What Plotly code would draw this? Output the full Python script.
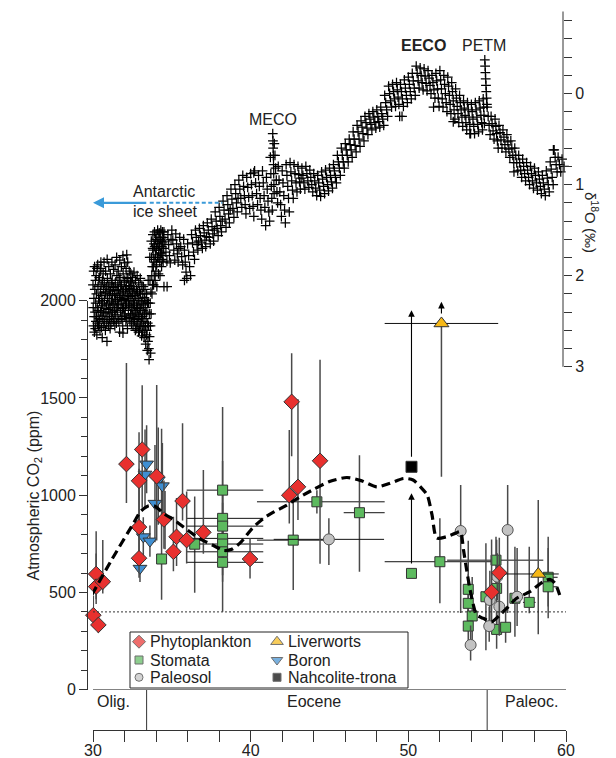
import plotly.graph_objects as go

W, H = 616, 758
FONT = "Liberation Sans, Arial, sans-serif"
TXT = "#222222"

# ---------------- delta 18O (benthic) record ----------------
# each age bin holds the values read off the cloud within that bin
d18o_age = [30.0, 30.1, 30.2, 30.3, 30.4, 30.5, 30.6, 30.7, 30.8, 30.9, 31.0, 31.1, 31.2, 31.3, 31.4,
            31.5, 31.6, 31.7, 31.8, 31.9, 32.0, 32.1, 32.2, 32.3, 32.4, 32.5, 32.6, 32.7, 32.8, 32.9,
            33.0, 33.1, 33.2, 33.3, 33.4, 33.5, 33.6, 33.7, 33.8, 33.9, 34.0, 34.1, 34.2, 34.3, 34.4,
            34.5, 34.75, 35.0, 35.25, 35.5, 35.75, 36.0, 36.25, 36.5, 36.75, 37.0, 37.25, 37.5, 37.75,
            38.0, 38.25, 38.5, 38.75, 39.0, 39.25, 39.5, 39.75, 40.0, 40.25, 40.5, 40.75, 41.0, 41.25,
            41.4, 41.5, 41.75, 42.0, 42.25, 42.5, 42.75, 43.0, 43.25, 43.5, 43.75, 44.0, 44.25, 44.5,
            44.75, 45.0, 45.25, 45.5, 45.75, 46.0, 46.25, 46.5, 46.75, 47.0, 47.25, 47.5, 47.75, 48.0,
            48.25, 48.5, 48.75, 49.0, 49.25, 49.5, 49.75, 50.0, 50.25, 50.5, 50.75, 51.0, 51.25, 51.5,
            51.75, 52.0, 52.25, 52.5, 52.75, 53.0, 53.25, 53.5, 53.75, 54.0, 54.25, 54.5, 54.75, 54.85,
            55.0, 55.25, 55.5, 55.75, 56.0, 56.25, 56.5, 56.75, 57.0, 57.25, 57.5, 57.75, 58.0, 58.25,
            58.5, 58.75, 59.0, 59.25, 59.5, 59.75]
d18o_vals = [
    [2.10, 2.35, 2.55, 1.95, 2.25, 2.45, 2.62], [1.90, 2.15, 2.40, 2.58, 2.05, 2.30, 2.50],
    [2.00, 2.20, 2.45, 2.65, 1.92, 2.35, 2.52], [1.88, 2.12, 2.38, 2.55, 2.25, 2.05, 2.47],
    [2.02, 2.28, 2.50, 2.60, 1.95, 2.18, 2.40], [1.92, 2.10, 2.33, 2.57, 2.22, 2.44, 2.68],
    [2.05, 2.30, 2.48, 1.98, 2.15, 2.40, 2.55], [1.85, 2.08, 2.27, 2.50, 2.36, 2.18, 2.60],
    [1.95, 2.20, 2.42, 2.12, 2.32, 2.52, 2.72], [1.82, 2.03, 2.25, 2.45, 2.15, 2.37, 2.55],
    [1.90, 2.10, 2.30, 2.48, 2.20, 2.40, 2.58], [1.98, 2.17, 2.35, 2.52, 2.08, 2.28, 2.45],
    [1.85, 2.05, 2.22, 2.40, 2.32, 2.13, 2.50], [1.93, 2.12, 2.30, 2.47, 2.20, 2.38, 2.55],
    [1.88, 2.08, 2.26, 2.43, 2.16, 2.35, 2.52], [1.80, 2.00, 2.20, 2.38, 2.28, 2.10, 2.47],
    [1.95, 2.15, 2.32, 2.50, 2.05, 2.24, 2.62], [1.83, 2.02, 2.22, 2.40, 2.12, 2.31, 2.48],
    [1.90, 2.10, 2.27, 2.45, 2.18, 2.36, 2.55], [1.78, 1.98, 2.17, 2.35, 2.26, 2.07, 2.44],
    [1.86, 2.05, 2.25, 2.42, 2.15, 2.33, 2.50], [1.92, 2.12, 2.30, 2.47, 2.02, 2.22, 2.58],
    [1.85, 2.03, 2.20, 2.38, 2.28, 2.11, 2.46], [1.95, 2.14, 2.32, 2.50, 2.23, 2.06, 2.42],
    [1.98, 2.17, 2.35, 2.52, 2.08, 2.27, 2.44], [2.02, 2.20, 2.38, 2.55, 2.12, 2.30, 2.47],
    [1.96, 2.15, 2.33, 2.50, 2.25, 2.42, 2.60], [2.05, 2.22, 2.40, 2.58, 2.15, 2.32, 2.48],
    [2.00, 2.18, 2.36, 2.54, 2.27, 2.45, 2.62], [2.08, 2.25, 2.43, 2.60, 2.17, 2.35, 2.52],
    [2.03, 2.20, 2.38, 2.56, 2.30, 2.47, 2.66], [2.10, 2.28, 2.45, 2.62, 2.20, 2.38, 2.55],
    [2.12, 2.32, 2.50, 2.68, 2.24, 2.42, 2.60], [2.15, 2.35, 2.55, 2.75, 2.27, 2.47, 2.65],
    [2.20, 2.40, 2.60, 2.82, 2.30, 2.52, 2.72], [2.05, 2.30, 2.55, 2.80, 2.92, 2.42, 2.67],
    [1.80, 2.05, 2.30, 2.55, 2.85, 2.18, 2.42], [1.62, 1.80, 2.00, 2.20, 1.90, 2.10, 1.70],
    [1.55, 1.72, 1.90, 2.10, 1.82, 1.65, 2.00], [1.52, 1.68, 1.85, 2.05, 1.77, 1.60, 1.95],
    [1.55, 1.70, 1.88, 2.12, 1.62, 1.80], [1.50, 1.65, 1.80, 1.98, 1.72, 1.58],
    [1.53, 1.68, 1.84, 2.00, 1.60, 1.76], [1.50, 1.62, 1.75, 1.90, 1.68, 1.82],
    [1.52, 1.64, 1.78, 1.85, 1.58, 1.70],
    [1.52, 1.62, 1.74, 1.84], [1.55, 1.66, 1.78, 1.86, 1.60], [1.50, 1.61, 1.72, 1.83],
    [1.54, 1.65, 1.76, 1.85, 1.70], [1.58, 1.68, 1.79, 1.88], [1.60, 1.72, 1.85, 1.96, 2.03],
    [1.65, 1.78, 1.90, 2.00], [1.55, 1.64, 1.74, 1.82], [1.50, 1.58, 1.66, 1.72, 1.62],
    [1.48, 1.56, 1.64, 1.70], [1.45, 1.53, 1.61, 1.68, 1.57], [1.42, 1.50, 1.58, 1.65],
    [1.38, 1.46, 1.54, 1.62, 1.50], [1.30, 1.40, 1.48, 1.56], [1.25, 1.35, 1.45, 1.52, 1.40],
    [1.18, 1.28, 1.38, 1.47], [1.12, 1.22, 1.32, 1.42, 1.28], [1.05, 1.16, 1.26, 1.36],
    [1.00, 1.10, 1.20, 1.30, 1.15], [0.95, 1.05, 1.15, 1.25], [0.90, 1.02, 1.12, 1.22, 1.32],
    [0.92, 1.03, 1.14, 1.26], [0.88, 1.00, 1.12, 1.24, 1.35], [0.85, 0.98, 1.10, 1.22],
    [0.90, 1.02, 1.15, 1.28, 1.38], [0.85, 0.98, 1.12, 1.25, 1.45], [0.92, 1.05, 1.18, 1.30, 1.40],
    [0.70, 0.88, 1.02, 1.15, 1.28], [0.44, 0.52, 0.60, 0.68, 0.78, 0.88, 1.00, 1.10],
    [0.55, 0.68, 0.82, 0.95, 1.08, 1.20], [0.80, 0.95, 1.08, 1.22, 1.35],
    [0.85, 0.98, 1.12, 1.28, 1.42], [0.78, 0.90, 1.02, 1.15, 1.30], [0.76, 0.86, 0.96, 1.06, 1.15],
    [0.78, 0.88, 0.98, 1.08], [0.80, 0.89, 0.97, 1.05, 0.93], [0.82, 0.90, 0.98, 1.05],
    [0.80, 0.88, 0.96, 1.03], [0.84, 0.92, 1.00, 1.08], [0.88, 0.96, 1.04, 1.12],
    [0.90, 0.98, 1.06, 1.13], [0.86, 0.94, 1.02, 1.10], [0.84, 0.92, 1.00, 1.07],
    [0.82, 0.90, 0.97, 1.04], [0.78, 0.85, 0.92, 0.98], [0.68, 0.75, 0.82, 0.90],
    [0.60, 0.68, 0.75, 0.82], [0.55, 0.62, 0.68, 0.75], [0.50, 0.56, 0.62, 0.70],
    [0.42, 0.50, 0.57, 0.64], [0.35, 0.42, 0.50, 0.58], [0.30, 0.37, 0.44, 0.52],
    [0.25, 0.32, 0.38, 0.45], [0.22, 0.28, 0.34, 0.40], [0.20, 0.26, 0.32, 0.38],
    [0.18, 0.25, 0.31, 0.37], [0.15, 0.22, 0.28, 0.35], [0.02, 0.10, 0.18, 0.25],
    [-0.08, 0.00, 0.08, 0.15], [-0.10, -0.02, 0.06, 0.14], [-0.12, -0.04, 0.04, 0.12, 0.25],
    [-0.10, -0.02, 0.06, 0.14], [-0.15, -0.06, 0.02, 0.10], [-0.18, -0.10, -0.02, 0.06],
    [-0.22, -0.14, -0.06, 0.02], [-0.30, -0.22, -0.14, -0.06], [-0.28, -0.20, -0.12, -0.04],
    [-0.27, -0.19, -0.11, -0.03], [-0.25, -0.17, -0.09, 0.00], [-0.20, -0.12, -0.04, 0.05],
    [-0.22, -0.14, -0.05, 0.05, 0.14], [-0.25, -0.15, -0.05, 0.06, 0.15],
    [-0.20, -0.10, 0.00, 0.10, 0.20], [-0.18, -0.08, 0.02, 0.12, 0.22],
    [-0.12, -0.02, 0.08, 0.18, 0.28], [-0.05, 0.05, 0.14, 0.22, 0.32],
    [0.02, 0.10, 0.18, 0.26, 0.36], [0.08, 0.16, 0.24, 0.32, 0.40],
    [0.10, 0.18, 0.26, 0.34, 0.44], [0.12, 0.20, 0.28, 0.36, 0.44],
    [0.10, 0.18, 0.26, 0.34, 0.42], [0.08, 0.16, 0.24, 0.32, 0.40], [0.06, 0.15, 0.24, 0.33],
    [-0.37, -0.30, -0.23, -0.16, -0.09, -0.02, 0.05, 0.12],
    [0.15, 0.25, 0.35, 0.45], [0.25, 0.33, 0.41, 0.50], [0.28, 0.36, 0.44, 0.52, 0.60],
    [0.35, 0.43, 0.51, 0.60], [0.40, 0.48, 0.56, 0.64], [0.45, 0.53, 0.61, 0.70],
    [0.52, 0.60, 0.68, 0.76], [0.60, 0.68, 0.76, 0.85], [0.68, 0.76, 0.84, 0.92],
    [0.72, 0.80, 0.88, 0.96], [0.76, 0.84, 0.92, 1.00], [0.80, 0.88, 0.96, 1.04],
    [0.82, 0.90, 0.98, 1.06], [0.86, 0.94, 1.02, 1.10], [0.90, 0.98, 1.05, 1.12],
    [0.85, 0.93, 1.00, 1.08], [0.75, 0.83, 0.92, 1.00], [0.62, 0.70, 0.78, 0.86],
    [0.70, 0.78, 0.86], [0.72, 0.80]]
# isolated outlying samples
d18o_extra_age = [30.5, 32.14, 31.9, 34.5, 34.7, 35.8, 40.2, 49.6, 51.6, 52.85, 53.9, 56.7, 59.2]
d18o_extra_val = [1.85, 1.77, 2.63, 2.12, 2.12, 2.05, 0.87, 0.25, 0.15, 0.31, 0.44, 0.86, 0.62]

# ---------------- CO2 proxy data ----------------
phyto_age = [30.20, 30.20, 30.62, 30.02, 30.34, 32.12, 33.12, 32.92, 32.92, 32.92, 34.04, 34.50,
             35.68, 35.30, 35.94, 35.10, 37.00, 39.96, 42.60, 42.45, 43.00, 44.40, 55.77, 55.28]
phyto_co2 = [595, 530, 555, 383, 333, 1160, 1235, 1074, 836, 676, 1097, 875,
             970, 786, 769, 709, 809, 672, 1480, 1000, 1043, 1177, 601, 502]
phyto_up = [220, 170, 215, 100, 60, 520, 330, 250, 300, 150, 470, 200,
            400, 200, 250, 180, 320, 106, 250, 335, 450, 520, 180, 270]
phyto_dn = [130, 90, 60, 40, 40, 200, 300, 250, 200, 100, 330, 150,
            100, 150, 120, 100, 110, 100, 280, 145, 170, 530, 300, 150]

boron_age = [33.40, 33.30, 34.14, 34.40, 33.93, 34.57, 33.19, 33.61, 32.98]
boron_co2 = [1160, 1108, 1078, 1048, 958, 872, 786, 764, 624]
boron_up = [200, 230, 270, 220, 300, 150, 100, 80, 60]
boron_dn = [150, 180, 230, 200, 200, 150, 100, 80, 70]

stom_age = [34.35, 36.45, 38.22, 38.22, 38.22, 38.22, 38.22, 38.22, 38.22, 42.70, 44.20, 46.90,
            50.20, 52.00, 55.56, 53.80, 53.80, 54.05, 53.80, 54.92, 55.60, 55.60, 56.17, 56.76,
            57.67, 58.87, 58.87]
stom_co2 = [672, 748, 1026, 881, 841, 778, 749, 709, 655, 769, 966, 910,
            598, 658, 666, 516, 444, 379, 327, 478, 521, 310, 321, 470,
            449, 578, 529]
stom_up = [670, 245, 150, 120, 120, 676, 100, 120, 100, 223, 60, 296,
           0, 224, 120, 250, 150, 200, 120, 275, 250, 150, 100, 265,
           286, 208, 200]
stom_dn = [210, 250, 150, 120, 120, 377, 100, 120, 100, 257, 60, 304,
           0, 214, 150, 150, 120, 150, 100, 275, 200, 100, 80, 198,
           56, 150, 162]
stom_xl = [0.3, 0.3, 2.28, 2.28, 2.28, 2.28, 2.28, 2.28, 2.28, 2.3, 3.8, 1.0,
           0.0, 3.5, 3.1, 0, 0, 0, 0, 0, 0, 0, 0, 0,
           0.4, 0, 0]
stom_xr = [0.3, 0.3, 2.58, 2.58, 2.58, 2.58, 2.58, 2.58, 2.58, 2.3, 4.3, 1.6,
           0.3, 3.5, 3.0, 0, 0, 0, 0, 0, 0, 0, 0, 0,
           0.4, 0.6, 0.6]

paleo_age = [44.96, 53.32, 56.30, 53.95, 55.17, 55.77, 55.13, 55.64, 56.90]
paleo_co2 = [773, 816, 821, 230, 461, 427, 327, 581, 478]
paleo_up = [109, 236, 231, 100, 150, 150, 100, 120, 250]
paleo_dn = [132, 422, 427, 80, 150, 150, 80, 120, 150]
paleo_xl = [3.5, 0, 0, 0, 0, 0, 0, 0, 0]
paleo_xr = [3.5, 0, 0, 0, 0, 0, 0, 0, 0]

liver_age = [52.10, 58.24]
liver_co2 = [1883, 595]
liver_up = [0, 380]
liver_dn = [788, 310]
liver_xl = [3.6, 2.2]
liver_xr = [3.6, 1.3]

nahc_age = [50.20]
nahc_co2 = [1146]

# lower-limit estimates drawn as upward arrows
arrow_age = [50.20, 52.10, 50.20]
arrow_from = [1146, 1883, 598]
arrow_to = [1951, 1994, 1010]

# LOESS-type fit through the CO2 data
fit_age = [29.92, 31.2, 32.6, 33.0, 33.5, 33.9, 34.5, 35.2, 36.0, 36.8, 37.6, 38.3, 38.8, 39.4,
           40.1, 40.8, 41.5, 42.3, 43.1, 44.0, 45.0, 46.1, 47.0, 48.0, 48.8, 49.7, 50.3, 50.8,
           51.2, 51.5, 51.8, 52.4, 53.0, 53.3, 53.5, 53.7, 53.9, 54.1, 54.33, 54.75, 55.28, 55.8,
           56.23, 56.87, 57.71, 58.55, 58.98, 59.3, 59.6]
fit_co2 = [487, 670, 860, 915, 945, 945, 905, 870, 820, 775, 743, 716, 722, 760,
           830, 880, 915, 949, 990, 1030, 1070, 1091, 1075, 1043, 1060, 1086, 1078, 1040,
           1000, 900, 780, 786, 805, 812, 718, 615, 521, 444, 384, 367, 349, 384,
           418, 470, 504, 555, 567, 547, 487]

epoch_names = ["Olig.", "Eocene", "Paleoc."]
epoch_label_age = [31.33, 44.0, 57.84]
epoch_bounds = [33.4, 55.0]
present_co2 = 400

legend_names = ["Phytoplankton", "Stomata", "Paleosol", "Liverworts", "Boron", "Nahcolite-trona"]

# ---------------- layout geometry (pixels -> paper) ----------------
def fx(p):
    return p / W

def fy(p):
    return 1 - p / H

X0, X1 = 93, 566            # 30 Ma and 60 Ma
Y_CO2_0, Y_CO2_2000 = 689.7, 300.7
Y_XAXIS = 730
d18_bottom = (690 - 93.5) / 91.1   # d18O value at the bottom of its axis domain
d18_top = (0 - 93.5) / 91.1

fig = go.Figure()

# spread each bin's samples across the bin width
flat_age, flat_val = [], []
for i, (a, vals) in enumerate(zip(d18o_age, d18o_vals)):
    w = (d18o_age[i + 1] - a) if i + 1 < len(d18o_age) else 0.25
    n = len(vals)
    for k, v in enumerate(vals):
        flat_age.append(a + w * k / n)
        flat_val.append(v)
flat_age += d18o_extra_age
flat_val += d18o_extra_val

fig.add_trace(go.Scatter(x=flat_age, y=flat_val, mode="markers", yaxis="y2", xaxis="x",
                         marker=dict(symbol="cross-thin", size=7, line=dict(width=1.25, color="black")),
                         showlegend=False, cliponaxis=False, hoverinfo="skip"))

ey_col, ex_col = "#4a4a4a", "#111111"

def proxy(age, co2, up, dn, sym, size, color, xl=None, xr=None, lc="#333333"):
    ex = None
    if xl is not None:
        ex = dict(type="data", symmetric=False, array=xr, arrayminus=xl, color=ex_col,
                  thickness=1, width=0)
    fig.add_trace(go.Scatter(
        x=age, y=co2, mode="markers", xaxis="x", yaxis="y", showlegend=False, cliponaxis=False,
        error_y=dict(type="data", symmetric=False, array=up, arrayminus=dn, color=ey_col,
                     thickness=1.5, width=0),
        error_x=ex,
        marker=dict(symbol=sym, size=size, color=color, line=dict(width=1, color=lc))))

RED, GREEN, GRAY, BLUE, YEL = "#e8302e", "#5dba5f", "#c2c2c2", "#3f8fd2", "#f6b817"

proxy(stom_age, stom_co2, stom_up, stom_dn, "square", 10, GREEN, stom_xl, stom_xr)
proxy(paleo_age, paleo_co2, paleo_up, paleo_dn, "circle", 11, GRAY, paleo_xl, paleo_xr, "#555555")
proxy(liver_age, liver_co2, liver_up, liver_dn, "triangle-up", 13, YEL, liver_xl, liver_xr)
proxy(boron_age, boron_co2, boron_up, boron_dn, "triangle-down", 12, BLUE)
proxy(phyto_age, phyto_co2, phyto_up, phyto_dn, "diamond", 12, RED)
proxy(nahc_age, nahc_co2, [0], [0], "square", 11, "black")

fig.add_trace(go.Scatter(x=fit_age, y=fit_co2, mode="lines", xaxis="x", yaxis="y",
                         line=dict(color="black", width=3.2, dash="9px,5px", shape="spline", smoothing=0.7),
                         showlegend=False, hoverinfo="skip"))

# ---------------- custom legend on a hidden pixel-scaled axis pair ----------------
LEG_L, LEG_R, LEG_T, LEG_B = 130, 408, 632, 688
leg_sym_x = [139, 139, 139, 277, 277, 277]
leg_row_y = [641.7, 660, 677.3, 641.7, 660, 677.3]
leg_sym = ["diamond", "square", "circle", "triangle-up", "triangle-down", "square"]
leg_size = [10, 8, 8, 11, 10, 8]
leg_col = [RED, GREEN, GRAY, YEL, BLUE, "black"]
fig.add_trace(go.Scatter(x=leg_sym_x, y=leg_row_y, mode="markers", xaxis="x2", yaxis="y3",
                         marker=dict(symbol=leg_sym, size=leg_size, color=leg_col,
                                     line=dict(width=1, color="#333")),
                         showlegend=False, hoverinfo="skip", cliponaxis=False))

annos = []
for nm, sx, ry in zip(legend_names, leg_sym_x, leg_row_y):
    annos.append(dict(x=sx + 9, y=ry, xref="x2", yref="y3", text=nm, showarrow=False,
                      xanchor="left", yanchor="middle", font=dict(family=FONT, size=16, color=TXT)))

for a, y0, y1 in zip(arrow_age, arrow_from, arrow_to):
    annos.append(dict(x=a, y=y1, ax=a, ay=y0, xref="x", yref="y", axref="x", ayref="y",
                      showarrow=True, arrowhead=2, arrowsize=1.2, arrowwidth=1.1,
                      arrowcolor="black", text=" ", standoff=0, startstandoff=0))

# Antarctic ice sheet arrow
annos.append(dict(x=30.0, y=1.20, ax=33.6, ay=1.20, xref="x", yref="y2", axref="x", ayref="y2",
                  showarrow=True, arrowhead=2, arrowsize=1, arrowwidth=2.2, arrowcolor="#3a9ad9",
                  text=" ", standoff=0))
tf = dict(family=FONT, size=16, color=TXT)
annos += [
    dict(x=32.41, y=1.08, xref="x", yref="y2", text="Antarctic", showarrow=False, xanchor="left", font=tf),
    dict(x=32.41, y=1.30, xref="x", yref="y2", text="ice sheet", showarrow=False, xanchor="left", font=tf),
    dict(x=41.41, y=0.28, xref="x", yref="y2", text="MECO", showarrow=False, font=tf),
    dict(x=50.93, y=-0.53, xref="x", yref="y2", text="<b>EECO</b>", showarrow=False, font=tf),
    dict(x=54.79, y=-0.53, xref="x", yref="y2", text="PETM", showarrow=False, font=tf),
    dict(x=fx(22), y=fy(496), xref="paper", yref="paper", text="Atmospheric CO<sub>2</sub> (ppm)",
         textangle=-90, showarrow=False, font=tf),
    dict(x=fx(603), y=fy(190), xref="paper", yref="paper", text="δ<sup>18</sup>O (‰)",
         textangle=90, showarrow=False, font=dict(family=FONT, size=15, color=TXT)),
]
for nm, ag in zip(epoch_names, epoch_label_age):
    annos.append(dict(x=ag, y=fy(711.5), xref="x", yref="paper", text=nm, showarrow=False, font=tf))

shapes = [
    dict(type="line", xref="x", yref="y", x0=30, x1=60, y0=0, y1=0, line=dict(color="#333", width=1)),
    dict(type="line", xref="x", yref="y", x0=30, x1=60, y0=present_co2, y1=present_co2,
         line=dict(color="#333", width=1, dash="2px,2px")),
    dict(type="line", xref="x", yref="y2", x0=33.6, x1=38.2, y0=1.20, y1=1.20,
         line=dict(color="#3a9ad9", width=2, dash="4px,2.5px")),
    dict(type="line", xref="paper", yref="y2", x0=fx(563), x1=fx(563), y0=-0.9, y1=3.0,
         line=dict(color="#333", width=1)),
    dict(type="rect", xref="paper", yref="paper", x0=fx(LEG_L), x1=fx(LEG_R), y0=fy(LEG_B), y1=fy(LEG_T),
         line=dict(color="#222", width=1), fillcolor="white", layer="below"),
]
for b in epoch_bounds:
    shapes.append(dict(type="line", xref="x", yref="paper", x0=b, x1=b, y0=fy(Y_XAXIS), y1=fy(690),
                       line=dict(color="#333", width=1)))

tickfont = dict(family=FONT, size=16, color=TXT)
d18_minor = [round(-0.8 + 0.2 * i, 1) for i in range(20)]
d18_minor = [v for v in d18_minor if abs(v - round(v)) > 0.01]
fig.update_layout(
    template="none",
    width=W, height=H, margin=dict(l=0, r=0, t=0, b=0, pad=0, autoexpand=False),
    paper_bgcolor="white", plot_bgcolor="rgba(0,0,0,0)",
    font=dict(family=FONT, size=16, color=TXT), showlegend=False,
    xaxis=dict(domain=[fx(X0), fx(X1)], range=[30, 60], anchor="free", position=fy(Y_XAXIS),
               automargin=False, ticklabelstandoff=-5,
               showline=True, linecolor="#333", linewidth=1, showgrid=False, zeroline=False,
               tickmode="array", tickvals=[30, 40, 50, 60], ticks="outside", ticklen=11,
               tickcolor="#333", tickfont=tickfont,
               minor=dict(tickmode="array", tickvals=[v for v in range(32, 60, 2) if v % 10],
                          ticks="outside", ticklen=11, tickcolor="#333", showgrid=False)),
    yaxis=dict(domain=[fy(Y_CO2_0), fy(Y_CO2_2000)], range=[0, 2000], anchor="free", position=fx(87),
               automargin=False,
               showline=True, linecolor="#333", linewidth=1, showgrid=False, zeroline=False,
               tickmode="array", tickvals=[0, 500, 1000, 1500, 2000], ticks="outside", ticklen=8,
               tickcolor="#333", tickfont=tickfont,
               minor=dict(tickmode="array", tickvals=[v for v in range(100, 2000, 100) if v % 500],
                          ticks="outside", ticklen=6, tickcolor="#333", showgrid=False)),
    yaxis2=dict(domain=[fy(690), 1.0], range=[d18_bottom, d18_top], anchor="free", position=fx(563),
                automargin=False,
                side="right", showline=False, showgrid=False, zeroline=False,
                tickmode="array", tickvals=[0, 1, 2, 3], ticks="outside", ticklen=8,
                tickcolor="#333", tickfont=tickfont,
                minor=dict(tickmode="array", tickvals=d18_minor,
                           ticks="outside", ticklen=8, tickcolor="#333", showgrid=False)),
    xaxis2=dict(domain=[fx(LEG_L), fx(LEG_R)], range=[LEG_L, LEG_R], anchor="y3", visible=False,
                automargin=False, fixedrange=True),
    yaxis3=dict(domain=[fy(LEG_B), fy(LEG_T)], range=[LEG_B, LEG_T], anchor="x2", visible=False,
                automargin=False, fixedrange=True),
    annotations=annos, shapes=shapes,
)

fig.write_html("out.html", config={"displayModeBar": False},
               post_script="document.body.style.margin='0px';document.body.style.overflow='hidden';")
